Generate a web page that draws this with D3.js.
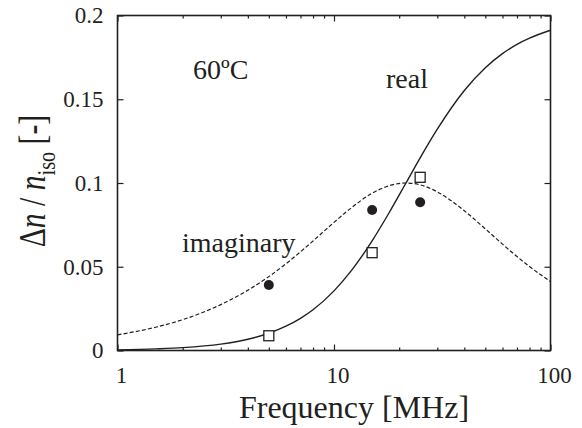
<!DOCTYPE html>
<html><head><meta charset="utf-8">
<script src="https://cdn.jsdelivr.net/npm/d3@7"></script>
<style>
html,body{margin:0;padding:0;background:#fff;}
svg{display:block;}
</style>
</head><body>
<svg id="chart" width="582" height="428"></svg>
<script>
// fitted curves
const fitFreq = [1,1.5,2,3,4,5,6,7,8,10,12,15,18,21.5,25,30,40,50,60,70,80,100];
const fitReal = [0.0004,0.0010,0.0017,0.0038,0.0067,0.0103,0.0145,0.0192,0.0243,0.0356,0.0475,0.0655,0.0824,0.1000,0.1150,0.1321,0.1552,0.1688,0.1772,0.1828,0.1865,0.1912];
const fitImag = [0.0093,0.0139,0.0184,0.0274,0.0360,0.0441,0.0518,0.0589,0.0654,0.0765,0.0851,0.0939,0.0984,0.1000,0.0989,0.0947,0.0834,0.0726,0.0635,0.0561,0.0501,0.0411];
// measured points
const measFreq = [5,15,25];
const measReal = [0.0088,0.0584,0.1034];
const measImag = [0.0391,0.0839,0.0885];
// ticks
const yTicks = [0,0.05,0.1,0.15,0.2];
const yTickLabels = ["0","0.05","0.1","0.15","0.2"];
const xMajor = [1,10,100];
const xMajorLabels = ["1","10","100"];
const xMinor = [2,3,4,5,6,7,8,9,20,30,40,50,60,70,80,90];

const ink = "#231f20";
const serifFamily = "Times New Roman";
const svg = d3.select("#chart");
const x = d3.scaleLog().domain([1,100]).range([117.5,550.5]);
const y = d3.scaleLinear().domain([0,0.2]).range([350.5,15.5]);

function styleAxis(g){
  g.attr("font-family",serifFamily).attr("font-size",23);
  g.select(".domain").remove();
  g.selectAll(".tick line").attr("stroke",ink).attr("stroke-width",1.2);
  g.selectAll("text").attr("fill",ink).attr("font-family",serifFamily).attr("font-size",23);
}

// bottom
svg.append("g").attr("transform",`translate(0,${y(0)})`)
  .call(d3.axisBottom(x).tickValues(xMajor).tickSize(-6).tickPadding(16).tickFormat((d,i)=>xMajorLabels[i]))
  .call(styleAxis).selectAll("text").attr("dx",3.5);
svg.append("g").attr("transform",`translate(0,${y(0)})`)
  .call(d3.axisBottom(x).tickValues(xMinor).tickSize(-3).tickFormat(""))
  .call(styleAxis);
// top
svg.append("g").attr("transform",`translate(0,${y(0.2)})`)
  .call(d3.axisTop(x).tickValues(xMajor).tickSize(-6).tickFormat(""))
  .call(styleAxis);
svg.append("g").attr("transform",`translate(0,${y(0.2)})`)
  .call(d3.axisTop(x).tickValues(xMinor).tickSize(-3).tickFormat(""))
  .call(styleAxis);
// left
svg.append("g").attr("transform",`translate(${x(1)},0)`)
  .call(d3.axisLeft(y).tickValues(yTicks).tickSize(-6).tickPadding(14).tickFormat((d,i)=>yTickLabels[i]))
  .call(styleAxis);
// right
svg.append("g").attr("transform",`translate(${x(100)},0)`)
  .call(d3.axisRight(y).tickValues(yTicks).tickSize(-6).tickFormat(""))
  .call(styleAxis);

// frame
svg.append("rect").attr("x",x(1)).attr("y",y(0.2)).attr("width",x(100)-x(1)).attr("height",y(0)-y(0.2))
  .attr("fill","none").attr("stroke",ink).attr("stroke-width",1.6);

// curves
const fitData = fitFreq.map((f,i)=>({f,r:fitReal[i],im:fitImag[i]}));
const lineR = d3.line().x(d=>x(d.f)).y(d=>y(d.r)).curve(d3.curveMonotoneX);
const lineI = d3.line().x(d=>x(d.f)).y(d=>y(d.im)).curve(d3.curveMonotoneX);
svg.append("path").datum(fitData).attr("d",lineI).attr("fill","none").attr("stroke",ink).attr("stroke-width",1.2).attr("stroke-dasharray","4,2.2");
svg.append("path").datum(fitData).attr("d",lineR).attr("fill","none").attr("stroke",ink).attr("stroke-width",1.4);

// markers
const meas = measFreq.map((f,i)=>({f,r:measReal[i],im:measImag[i]}));
svg.append("g").selectAll("circle").data(meas).join("circle")
  .attr("cx",d=>x(d.f)).attr("cy",d=>y(d.im)).attr("r",5).attr("fill",ink);
svg.append("g").selectAll("rect").data(meas).join("rect")
  .attr("x",d=>x(d.f)-5).attr("y",d=>y(d.r)-5).attr("width",10).attr("height",10)
  .attr("fill","#fff").attr("stroke",ink).attr("stroke-width",1.3);

// annotations
function txt(xp,yp,size,s){
  return svg.append("text").attr("x",xp).attr("y",yp).attr("fill",ink)
    .attr("font-family",serifFamily).attr("font-size",size).text(s);
}
txt(193,79,28,"60ºC");
txt(386,88,28,"real");
txt(182,252,28,"imaginary");

// axis titles
txt(354,418,32,"Frequency [MHz]").attr("text-anchor","middle");
const yl = svg.append("text").attr("text-anchor","middle").attr("fill",ink)
  .attr("font-family",serifFamily).attr("font-size",38)
  .attr("transform","translate(45,181) rotate(-90) scale(0.78,1)");
yl.append("tspan").text("Δ");
yl.append("tspan").attr("font-style","italic").text("n");
yl.append("tspan").text(" / ");
yl.append("tspan").attr("font-style","italic").text("n");
yl.append("tspan").attr("font-size",26).attr("dy",10).text("iso");
yl.append("tspan").attr("dy",-10).text(" [-]");
</script>
</body></html>
